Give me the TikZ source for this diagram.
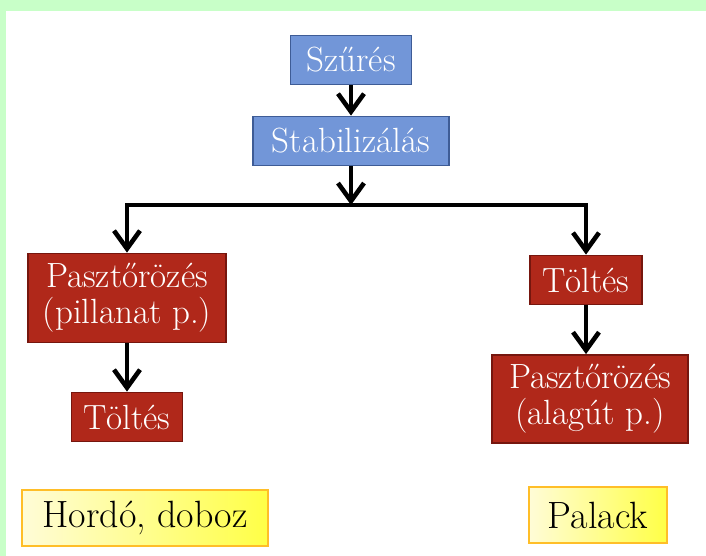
\documentclass[tikz,border=0pt]{standalone}
\usepackage{fontspec}
\usepackage{xcolor}
\usetikzlibrary{arrows.meta,positioning}

\definecolor{bgGreen}{RGB}{200,255,200}
\definecolor{boxBlue}{RGB}{114,150,216}
\definecolor{boxBlueEdge}{RGB}{62,92,150}
\definecolor{boxRed}{RGB}{176,40,26}
\definecolor{boxRedEdge}{RGB}{118,22,14}
\definecolor{noteYellow}{RGB}{255,255,70}
\definecolor{noteLight}{RGB}{255,252,215}
\definecolor{noteEdge}{RGB}{255,190,40}

\tikzset{
    stepBlue/.style={draw=boxBlueEdge, fill=boxBlue, line width=0.9pt, text=white,
        font=\fontsize{17.5}{18}\selectfont, minimum height=24.5pt, inner xsep=5pt},
    stepRed/.style={stepBlue, draw=boxRedEdge, fill=boxRed, align=center},
    note/.style={draw=noteEdge, line width=0.8pt, left color=noteLight, right color=noteYellow,
        font=\fontsize{19}{21}\selectfont, minimum height=28pt, inner xsep=5pt},
    flow/.style={line width=2.3pt, -{Straight Barb[length=9pt,width=13pt]}}
}

\begin{document}
\begin{tikzpicture}[x=0.5pt,y=-0.5pt]
    % Background
    \fill[bgGreen] (0,0) rectangle (706,556);
    \fill[white] (6,11) rectangle (706,556);
    \useasboundingbox (0,0) rectangle (706,556);

    % Common steps
    \node[stepBlue, minimum width=60.5pt] (szures) at (351,60) {Szűrés};
    \node[stepBlue, minimum width=98pt] (stab) at (351,141) {Stabilizálás};
    \coordinate (split) at (351,205);

    % Left branch
    \node[stepRed, minimum width=99pt, minimum height=44.5pt] (pastL) at (127,298) {Pasztőrözés\\(pillanat p.)};
    \node[stepRed, minimum width=55.5pt] (toltL) at (127,417) {Töltés};

    % Right branch
    \node[stepRed, minimum width=56pt] (toltR) at (586,280) {Töltés};
    \node[stepRed, minimum width=98pt, minimum height=44pt] (pastR) at (590,399) {Pasztőrözés\\(alagút p.)};

    % Packaging
    \node[note, minimum width=123pt] (hordo) at (145,518) {Hordó, doboz};
    \node[note, minimum width=69pt] (palack) at (598,515) {Palack};

    % Arrows
    \draw[flow] (szures) -- (stab);
    \draw[flow] (stab) -- (split);
    \draw[flow] (split) -| (pastL);
    \draw[flow] (split) -| (toltR);
    \draw[flow] (pastL) -- (toltL);
    \draw[flow] (toltR) -- (toltR |- pastR.north);
\end{tikzpicture}
\end{document}
